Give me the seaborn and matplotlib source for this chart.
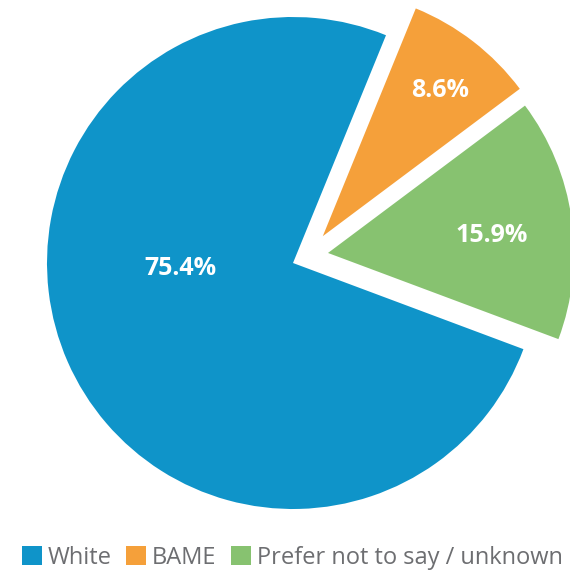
import matplotlib
matplotlib.use("Agg")
import matplotlib.pyplot as plt
import seaborn as sns
import numpy as np
from matplotlib.patches import Patch

categories = ["White", "BAME", "Prefer not to say / unknown"]
values = [75.4, 8.6, 15.9]
labels = ["75.4%", "8.6%", "15.9%"]
colors = ["#0f94c9", "#f5a03a", "#87c270"]

sns.set_theme(style="white")
plt.rcParams['font.family'] = ['Open Sans', 'DejaVu Sans']

fig = plt.figure(figsize=(5.70, 5.72), dpi=100)
ax = fig.add_axes([0, 0, 1, 1])
pal = sns.color_palette(colors)

wedges, _ = ax.pie(values, colors=pal, startangle=-20.5, counterclock=False,
                   radius=1, wedgeprops=dict(linewidth=0))

# offset of the separated wedges (distance in radii, direction in degrees)
offsets = [(0, 0), (0.163, 42), (0.148, 16)]
label_pos = [(0.46, 183), (0.76, 51), (0.67, 6)]
for w, lab, (d, oa), (dist, ang) in zip(wedges, labels, offsets, label_pos):
    cx, cy = d * np.cos(np.deg2rad(oa)), d * np.sin(np.deg2rad(oa))
    w.set_center((cx, cy))
    a = np.deg2rad(ang)
    ax.text(cx + dist * np.cos(a), cy + dist * np.sin(a), lab, ha="center", va="center",
            color="white", fontsize=18, fontweight="bold")

ax.set_xlim(-293 / 246, 277 / 246)
ax.set_ylim(-309 / 246, 263 / 246)
ax.set_aspect("auto")
ax.axis("off")

handles = [Patch(facecolor=c, edgecolor="none", label=l) for c, l in zip(pal, categories)]
leg = fig.legend(handles=handles, loc="lower left", bbox_to_anchor=(22 / 570, 0.004), ncol=3,
                 frameon=False, fontsize=17, handlelength=0.85, handleheight=0.85,
                 handletextpad=0.25, columnspacing=0.6, borderaxespad=0, borderpad=0)
for t in leg.get_texts():
    t.set_color("#6d6e71")

fig.savefig("out.png", dpi=100)
